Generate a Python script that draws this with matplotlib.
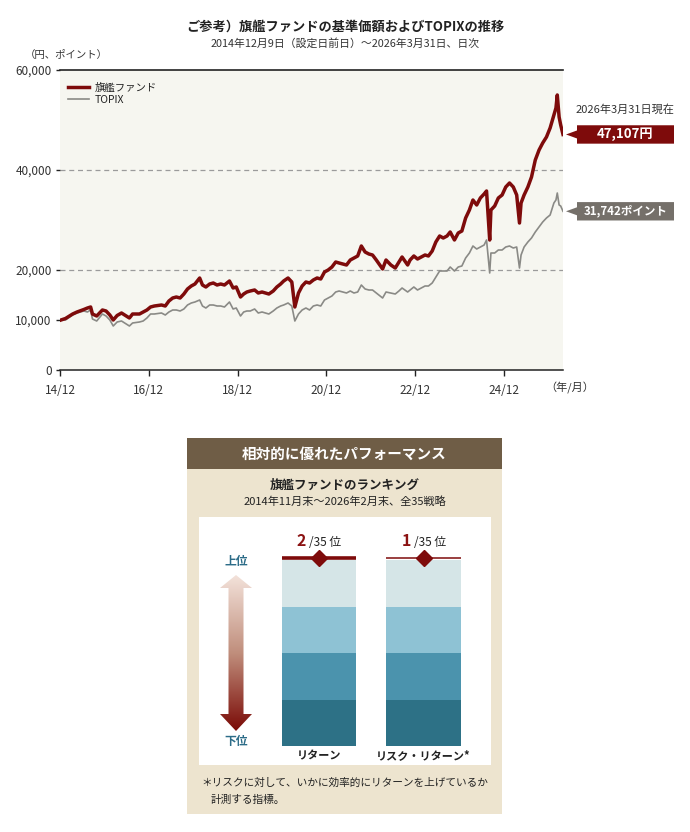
import numpy as np
import pandas as pd
import matplotlib
matplotlib.use('Agg')
import matplotlib.pyplot as plt
from matplotlib.patches import Polygon, Rectangle
from matplotlib.colors import LinearSegmentedColormap
from matplotlib import transforms

plt.rcParams['font.family'] = ['Noto Sans CJK JP', 'DejaVu Sans']

# ---- data (index, start = 10,000) ----
dates = [
    '2014-12-09',
    '2015-01-15', '2015-03-15', '2015-04-20', '2015-06-15', '2015-07-15', '2015-08-10', '2015-08-25',
    '2015-09-29', '2015-11-15', '2015-12-15',
    '2016-01-15', '2016-02-12', '2016-03-15', '2016-04-20', '2016-06-24', '2016-07-20', '2016-09-15',
    '2016-10-15', '2016-11-15', '2016-12-15',
    '2017-01-15', '2017-03-15', '2017-04-15', '2017-05-15', '2017-06-15', '2017-07-15', '2017-08-15',
    '2017-09-15', '2017-10-15', '2017-11-15', '2017-12-15',
    '2018-01-23', '2018-02-15', '2018-03-15', '2018-04-15', '2018-05-15', '2018-06-15', '2018-07-15',
    '2018-08-15', '2018-09-25', '2018-10-25', '2018-11-20', '2018-12-25',
    '2019-01-20', '2019-02-15', '2019-03-15', '2019-04-20', '2019-05-20', '2019-06-20', '2019-08-15',
    '2019-09-20', '2019-10-20', '2019-11-20', '2019-12-15',
    '2020-01-20', '2020-02-20', '2020-03-16', '2020-04-15', '2020-05-15', '2020-06-15', '2020-07-15',
    '2020-08-15', '2020-09-15', '2020-10-15', '2020-11-15', '2020-12-15',
    '2021-01-15', '2021-02-15', '2021-03-15', '2021-05-15', '2021-06-15', '2021-07-15', '2021-08-15',
    '2021-09-14', '2021-10-15', '2021-11-15', '2021-12-15',
    '2022-01-15', '2022-03-08', '2022-04-05', '2022-05-15', '2022-06-20', '2022-07-20', '2022-08-15',
    '2022-09-30', '2022-10-20', '2022-11-20', '2022-12-20',
    '2023-01-20', '2023-02-20', '2023-03-20', '2023-04-20', '2023-05-20', '2023-06-20', '2023-07-20',
    '2023-08-20', '2023-09-15', '2023-10-20', '2023-11-20', '2023-12-20',
    '2024-01-20', '2024-02-20', '2024-03-20', '2024-04-20', '2024-05-20', '2024-06-20', '2024-07-10',
    '2024-08-05', '2024-08-15', '2024-09-15', '2024-10-15', '2024-11-15', '2024-12-15',
    '2025-01-15', '2025-02-15', '2025-03-15', '2025-04-07', '2025-04-20', '2025-05-15', '2025-06-15',
    '2025-07-15', '2025-08-15', '2025-09-15', '2025-10-15', '2025-11-15', '2025-12-15',
    '2026-01-15', '2026-02-01', '2026-02-12', '2026-02-27', '2026-03-12', '2026-03-31',
]

fund = [
    10000,
    10300, 11200, 11600, 12100, 12400, 12600, 11200, 10800, 12000, 11800,
    11000, 10000, 10900, 11400, 10400, 11200, 11200, 11600, 12000, 12600,
    12800, 13000, 12800, 13800, 14400, 14600, 14400, 15200, 16200, 16800, 17200,
    18400, 17000, 16600, 17200, 17400, 17000, 17200, 17000, 17800, 16400, 16600, 14600,
    15200, 15600, 15800, 16000, 15400, 15600, 15200, 15800, 16600, 17200, 17800,
    18400, 17600, 12600, 15400, 16800, 17600, 17400, 18000, 18400, 18200, 19600, 20000,
    20600, 21600, 21400, 21000, 22000, 22400, 22800, 24800, 23600, 23200, 23000,
    22000, 20200, 22000, 21000, 20400, 21600, 22600, 21000, 22000, 22800, 22200,
    22600, 23000, 22800, 23800, 25600, 26800, 26400, 26800, 27600, 26000, 27400, 27800,
    30400, 32000, 34000, 33000, 34400, 35200, 35800, 26000, 32000, 32800, 34400, 35000, 36600,
    37400, 36600, 35000, 29400, 33400, 35000, 36600, 38600, 42000, 44000, 45400, 46600, 48400,
    51000, 52400, 55000, 50600, 49000, 47107,
]

topix = [
    10000,
    10000, 11000, 11400, 11800, 11600, 12000, 10200, 9800, 11200, 10800,
    10000, 8800, 9600, 9800, 8800, 9400, 9600, 9800, 10400, 11200,
    11200, 11400, 11000, 11600, 12000, 12000, 11800, 12200, 13000, 13400, 13600,
    14000, 12800, 12400, 13000, 13000, 12800, 12800, 12600, 13600, 12200, 12400, 10800,
    11600, 11800, 11800, 12200, 11400, 11600, 11200, 11800, 12400, 12800, 13000,
    13400, 12800, 9800, 11200, 12000, 12400, 12000, 12800, 13000, 12800, 14000, 14400,
    14800, 15600, 15800, 15400, 15800, 15400, 15600, 17000, 16200, 16000, 16000,
    15400, 14400, 15600, 15400, 15200, 15800, 16400, 15600, 16000, 16600, 16000,
    16400, 16800, 16800, 17400, 18600, 19800, 19800, 19800, 20600, 19800, 20600, 20800,
    22400, 23400, 24800, 24200, 24600, 25000, 26000, 19400, 23400, 23400, 24000, 24000, 24600,
    24800, 24400, 24600, 20400, 23000, 24600, 25600, 26400, 27600, 28600, 29600, 30400, 31000,
    33400, 34000, 35400, 33000, 32800, 31742,
]

series_labels = ['旗艦ファンド', 'TOPIX']
x_tick_dates = ['2014-12-01', '2016-12-01', '2018-12-01', '2020-12-01', '2022-12-01', '2024-12-01']
x_tick_labels = ['14/12', '16/12', '18/12', '20/12', '22/12', '24/12']
y_ticks = [0, 10000, 20000, 40000, 60000]

rank_labels = ['リターン', 'リスク・リターン*']
ranks = [2, 1]
n_strategies = 35
quartile_colors = ['#2d7186', '#4b93ad', '#8ec2d4', '#d5e5e7']   # bottom -> top

RED = '#7e0b0b'
GREY_LINE = '#8a8a86'
GREY_BOX = '#75706a'

W, H = 690, 832
fig = plt.figure(figsize=(W / 100, H / 100), dpi=100)
fig.patch.set_facecolor('white')


def fx(px):
    return px / W


def fy(py):
    return 1 - py / H


# overlay axes in pixel coordinates for the decorative parts
bg = fig.add_axes([0, 0, 1, 1], zorder=0)
bg.set_xlim(0, W)
bg.set_ylim(H, 0)
bg.axis('off')

# ---------------- line chart ----------------
d = pd.to_datetime(dates)
ax = fig.add_axes([fx(60), fy(370), 503 / W, 300 / H], zorder=2)
ax.set_facecolor('#f6f6f0')
ax.plot(d, topix, color=GREY_LINE, lw=1.2, label=series_labels[1], zorder=3)
ax.plot(d, fund, color=RED, lw=2.5, label=series_labels[0], zorder=4)
ax.set_ylim(0, 60000)
ax.set_xlim(pd.Timestamp('2014-12-01'), pd.Timestamp('2026-03-31'))

for g in (20000, 40000):
    ax.axhline(g, color='#9b9b9b', lw=0.9, ls=(0, (4, 3)), zorder=1)
ax.axhline(60000, color='#222222', lw=1.2, clip_on=False, zorder=5)

ax.set_yticks(y_ticks)
ax.set_yticklabels([f'{v:,}' for v in y_ticks])
ax.set_xticks(pd.to_datetime(x_tick_dates))
ax.set_xticklabels(x_tick_labels)
for s in ('top', 'right', 'left'):
    ax.spines[s].set_visible(False)
ax.spines['bottom'].set_color('#222222')
ax.spines['bottom'].set_linewidth(1.1)
ax.tick_params(axis='x', length=4, width=1, color='#222222', labelsize=8.5,
               labelcolor='#333333', pad=6)
ax.tick_params(axis='y', length=3, width=1, color='#222222', labelsize=8.5,
               labelcolor='#333333', pad=3)

h, l = ax.get_legend_handles_labels()
leg = ax.legend(h[::-1], l[::-1], loc='upper left', bbox_to_anchor=(0.0, 0.985),
                frameon=False, fontsize=7.5, handlelength=2.0, handletextpad=0.5,
                labelspacing=0.2, borderaxespad=0.4)
for t in leg.get_texts():
    t.set_color('#222222')

fig.text(0.5, fy(27), 'ご参考）旗艦ファンドの基準価額およびTOPIXの推移', ha='center', va='center',
         fontsize=9.5, fontweight='bold', color='#222222')
fig.text(0.5, fy(43), '2014年12月9日（設定日前日）～2026年3月31日、日次', ha='center', va='center',
         fontsize=7.8, color='#333333')
fig.text(fx(66), fy(55), '（円、ポイント）', ha='center', va='center', fontsize=7.5, color='#333333')
fig.text(fx(570), fy(388), '（年/月）', ha='center', va='center', fontsize=8, color='#333333')

# end-value callouts
trans = transforms.blended_transform_factory(fig.transFigure, ax.transData)
fig.text(fx(625), fy(110), '2026年3月31日現在', ha='center', va='center', fontsize=8, color='#333333')
for val, col, txt, fs in [(fund[-1], RED, f'{fund[-1]:,}円', 9.5),
                          (topix[-1], GREY_BOX, f'{topix[-1]:,}ポイント', 8.3)]:
    hh, nh = 1840, 800
    pts = [(fx(566), val), (fx(577), val + nh), (fx(577), val + hh), (fx(674), val + hh),
           (fx(674), val - hh), (fx(577), val - hh), (fx(577), val - nh)]
    ax.add_patch(Polygon(pts, closed=True, transform=trans, clip_on=False,
                         facecolor=col, edgecolor='none', zorder=6))
    ax.text(fx(625.5), val, txt, transform=trans, ha='center', va='center', color='white',
            fontsize=fs, fontweight='bold', clip_on=False, zorder=7)

# ---------------- ranking panel ----------------
bg.add_patch(Rectangle((187, 438), 315, 376, facecolor='#ede4cf', edgecolor='none'))
bg.add_patch(Rectangle((187, 438), 315, 31, facecolor='#6f5d46', edgecolor='none'))
bg.text(344.5, 454, '相対的に優れたパフォーマンス', ha='center', va='center', color='white',
        fontsize=10.5, fontweight='bold')
bg.text(344.5, 485, '旗艦ファンドのランキング', ha='center', va='center', color='#222222',
        fontsize=9, fontweight='bold')
bg.text(344.5, 502, '2014年11月末～2026年2月末、全35戦略', ha='center', va='center',
        color='#222222', fontsize=8)
bg.add_patch(Rectangle((199, 517), 292, 248, facecolor='white', edgecolor='none'))
bg.text(201, 783, '＊リスクに対して、いかに効率的にリターンを上げているか', ha='left', va='center',
        color='#222222', fontsize=7.7)
bg.text(211, 800, '計測する指標。', ha='left', va='center', color='#222222', fontsize=7.7)

# gradient double arrow
cx = 236
arrow_pts = [(cx, 575), (cx + 16, 588), (cx + 7.5, 588), (cx + 7.5, 714), (cx + 16, 714),
             (cx, 731), (cx - 16, 714), (cx - 7.5, 714), (cx - 7.5, 588), (cx - 16, 588)]
arrow = Polygon(arrow_pts, closed=True, facecolor='none', edgecolor='none')
bg.add_patch(arrow)
cmap = LinearSegmentedColormap.from_list('arr', ['#f3e2da', '#c08e7c', '#7a0a06'])
grad = np.linspace(0, 1, 256).reshape(-1, 1)
im = bg.imshow(grad, cmap=cmap, extent=(cx - 16, cx + 16, 731, 575), origin='upper',
               aspect='auto', zorder=1)
im.set_clip_path(arrow)
bg.set_xlim(0, W)
bg.set_ylim(H, 0)
bg.text(cx, 562, '上位', ha='center', va='center', color='#2c6c88', fontsize=8.5, fontweight='bold')
bg.text(cx, 742, '下位', ha='center', va='center', color='#2c6c88', fontsize=8.5, fontweight='bold')

# stacked quartile bars
bx = fig.add_axes([fx(266.5), fy(746), 209.4 / W, 186 / H], zorder=3)
bx.set_xlim(-0.5, 1.5)
bx.set_ylim(0, 4)
bx.axis('off')
pos = np.arange(len(ranks))
for i, c in enumerate(quartile_colors):
    bx.bar(pos, 1, bottom=i, width=0.712, color=c, edgecolor='none')

tb = transforms.blended_transform_factory(bx.transData, bg.transData)
for i, r in enumerate(ranks):
    lw = 2.6 if i == 0 else 1.1
    bx.plot([i - 0.356, i + 0.356], [557.5, 557.5], transform=tb, color=RED, lw=lw,
            solid_capstyle='butt', clip_on=False)
    bx.plot([i], [557.5], transform=tb, marker='D', ms=8, color=RED, clip_on=False)
    bx.text(i - 0.12, 541, str(r), transform=tb, ha='right', va='center', color='#8b1212',
            fontsize=11.5, fontweight='bold')
    bx.text(i - 0.095, 542, f'/{n_strategies} 位', transform=tb, ha='left', va='center',
            color='#222222', fontsize=8.5)
    bx.text(i, 756, rank_labels[i], transform=tb, ha='center', va='center', color='#222222',
            fontsize=8, fontweight='bold')

fig.savefig('out.png', dpi=100)
